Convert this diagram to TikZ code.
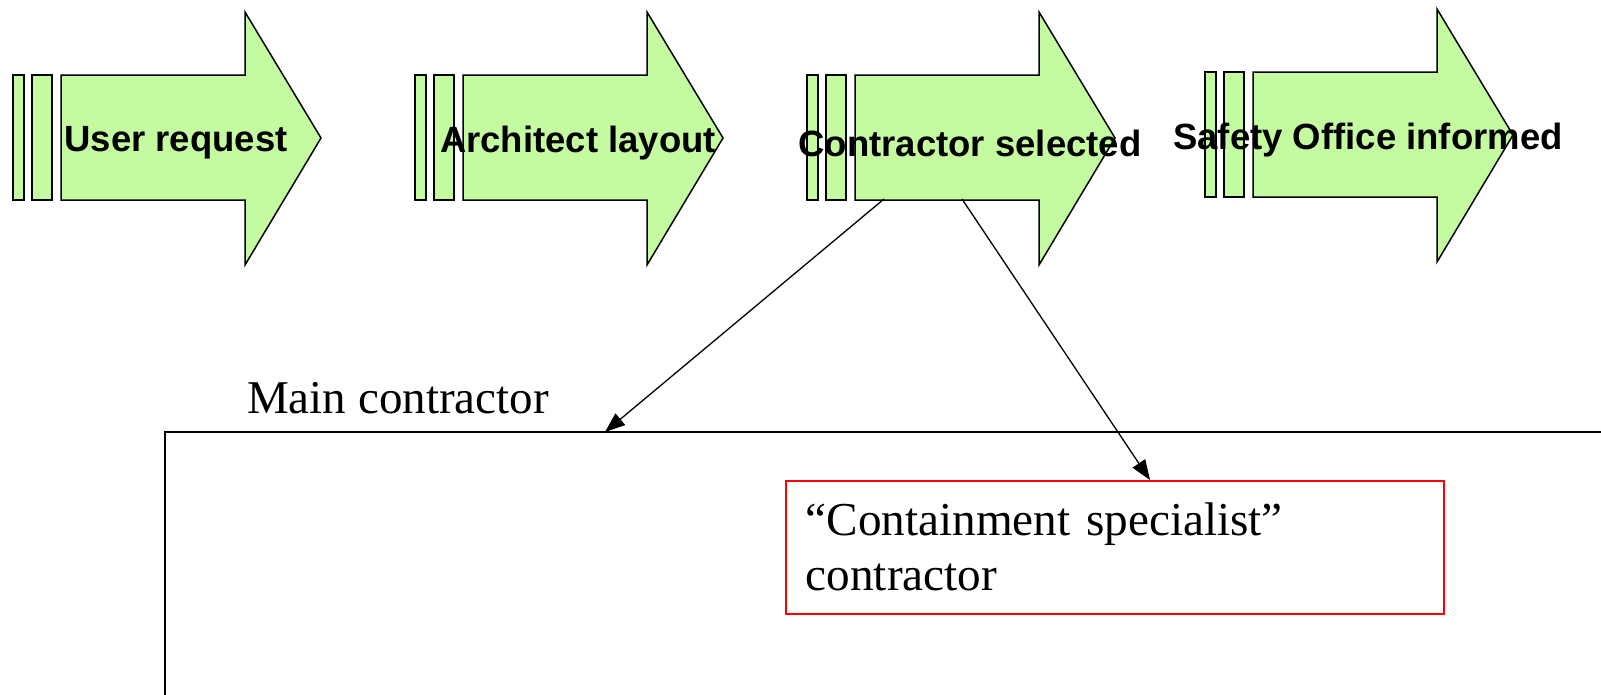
\documentclass[tikz,border=0pt]{standalone}
\usepackage{fontspec}
\setmainfont{Liberation Serif}
\setsansfont{Liberation Sans}
\usetikzlibrary{arrows.meta}

\definecolor{stagegreen}{RGB}{196,250,160}

\tikzset{
    stage/.style={fill=stagegreen, draw=black, line width=1.5},
    stagelabel/.style={inner sep=0, font=\sffamily\bfseries\fontsize{36.5}{42}\selectfont},
    plainlabel/.style={inner sep=0, font=\fontsize{47}{55}\selectfont},
    link/.style={line width=1.3, -{Triangle[length=20,width=15]}}
}

\begin{document}
\begin{tikzpicture}[x=1pt, y=-1pt]
    \useasboundingbox (0,0) rectangle (1601,694);

    % The four stages
    \foreach \dx/\dy/\lbl [count=\i] in {0/0/User request, 402/0/Architect layout,
        794/0/Contractor selected, 1192/-3/Safety Office informed} {
        \begin{scope}[shift={(\dx,\dy)}]
            \filldraw[stage] (13,75) rectangle (24,200);
            \filldraw[stage] (32,75) rectangle (52,200);
            \filldraw[stage] (61,75) -- (245,75) -- (245,12) -- (321,138)
                -- (245,265) -- (245,200) -- (61,200) -- cycle;
            \node[stagelabel] (s\i) at (176,143) {\lbl};
        \end{scope}
    }
    \coordinate (s3-left) at (884,199);
    \coordinate (s3-right) at (962,199);

    % Main contractor box (cut by the page edge)
    \begin{scope}
        \clip (0,0) rectangle (1601,694);
        \draw[line width=1.3] (165,432) rectangle (1640,740);
    \end{scope}
    \coordinate (main-top) at (605,432);
    \node[plainlabel, anchor=base west] (main) at (247,413) {Main contractor};

    % Specialist contractor
    \node[draw=red, line width=1.5, anchor=north west, minimum width=658, minimum height=133,
        text width=618, inner xsep=20, inner ysep=0, align=left,
        font=\fontsize{47.2}{55}\selectfont] (spec) at (785,480)
        {“Containment specialist”\\contractor};

    \draw[link] (s3-left) -- (main-top);
    \draw[link] (s3-right) -- (spec.north -| 1150,0);
\end{tikzpicture}
\end{document}
